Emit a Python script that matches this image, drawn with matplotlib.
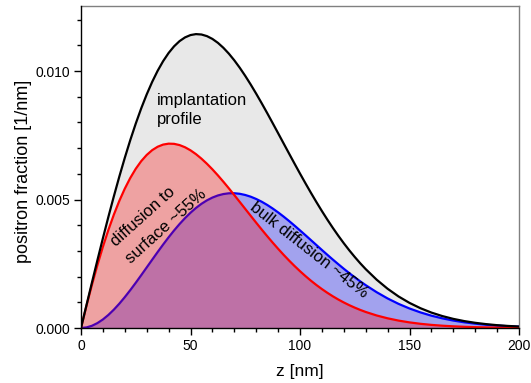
import matplotlib
matplotlib.use("Agg")
import matplotlib.pyplot as plt
from matplotlib.ticker import MultipleLocator, FixedLocator, FixedFormatter

plt.rcParams['font.family'] = ['Liberation Sans', 'DejaVu Sans']

# depth z [nm]
z = [0, 2.5, 5, 7.5, 10, 12.5, 15, 17.5, 20, 22.5, 25, 27.5, 30, 32.5, 35, 37.5,
     40, 42.5, 45, 47.5, 50, 52.5, 55, 57.5, 60, 62.5, 65, 67.5, 70, 72.5, 75, 77.5,
     80, 82.5, 85, 87.5, 90, 92.5, 95, 97.5, 100, 102.5, 105, 107.5, 110, 112.5,
     115, 117.5, 120, 122.5, 125, 127.5, 130,
     135, 140, 145, 150, 155, 160, 165, 170, 175, 180, 185, 190, 195, 200]

# implantation profile [1e-3 / nm]
implantation = [0.000, 0.888, 1.770, 2.640, 3.493, 4.323, 5.124, 5.893, 6.623, 7.312,
                7.954, 8.548, 9.089, 9.577, 10.009, 10.384, 10.701, 10.961, 11.163, 11.308,
                11.399, 11.436, 11.421, 11.358, 11.249, 11.097, 10.905, 10.677, 10.416, 10.126,
                9.810, 9.473, 9.117, 8.747, 8.366, 7.976, 7.582, 7.185, 6.790, 6.397,
                6.009, 5.630, 5.259, 4.899, 4.551, 4.216, 3.895, 3.589, 3.298, 3.023,
                2.764, 2.519, 2.291,
                1.880, 1.527, 1.227, 0.977, 0.770, 0.600, 0.464, 0.355, 0.269, 0.202,
                0.150, 0.110, 0.080, 0.058]

# diffusion to surface [1e-3 / nm]
surface = [0.000, 0.866, 1.684, 2.449, 3.161, 3.815, 4.410, 4.947, 5.422, 5.838,
           6.195, 6.493, 6.733, 6.920, 7.053, 7.137, 7.173, 7.166, 7.118, 7.033,
           6.914, 6.765, 6.589, 6.391, 6.174, 5.940, 5.693, 5.436, 5.172, 4.904,
           4.634, 4.364, 4.097, 3.833, 3.576, 3.325, 3.083, 2.849, 2.626, 2.413,
           2.211, 2.020, 1.840, 1.672, 1.515, 1.369, 1.233, 1.108, 0.993, 0.888,
           0.792, 0.704, 0.624,
           0.487, 0.377, 0.288, 0.218, 0.163, 0.121, 0.089, 0.065, 0.047, 0.033,
           0.024, 0.016, 0.011, 0.008]

# bulk diffusion [1e-3 / nm]
bulk = [0.000, 0.022, 0.086, 0.191, 0.332, 0.508, 0.714, 0.946, 1.201, 1.473,
        1.759, 2.055, 2.356, 2.657, 2.956, 3.247, 3.528, 3.795, 4.045, 4.276,
        4.485, 4.671, 4.832, 4.967, 5.075, 5.157, 5.212, 5.241, 5.244, 5.222,
        5.176, 5.109, 5.020, 4.914, 4.790, 4.651, 4.499, 4.336, 4.164, 3.984,
        3.798, 3.610, 3.419, 3.227, 3.036, 2.847, 2.662, 2.481, 2.305, 2.135,
        1.972, 1.815, 1.667,
        1.393, 1.150, 0.939, 0.759, 0.607, 0.479, 0.375, 0.290, 0.222, 0.169,
        0.126, 0.094, 0.069, 0.050]

x_ticks = [0, 50, 100, 150, 200]
y_ticks = [0.0, 0.005, 0.010]
y_tick_labels = ["0.000", "0.005", "0.010"]

scale = 1e-3
imp = [v * scale for v in implantation]
srf = [v * scale for v in surface]
blk = [v * scale for v in bulk]

fig = plt.figure(figsize=(5.31, 3.83), dpi=100)
ax = fig.add_axes([81/531, 1 - 328/383, (519 - 81)/531, (328 - 6)/383])

ax.fill_between(z, 0, imp, color='#e8e8e8', lw=0, zorder=1)
ax.plot(z, imp, color='black', lw=1.6, zorder=6)
ax.fill_between(z, 0, blk, color='blue', alpha=0.3, lw=0, zorder=2)
ax.plot(z, blk, color='blue', lw=1.6, zorder=3)
ax.fill_between(z, 0, srf, color='red', alpha=0.3, lw=0, zorder=4)
ax.plot(z, srf, color='red', lw=1.6, zorder=5)

ax.set_xlim(0, 200)
ax.set_ylim(0, 0.01253)

ax.xaxis.set_major_locator(FixedLocator(x_ticks))
ax.xaxis.set_minor_locator(MultipleLocator(10))
ax.yaxis.set_major_locator(FixedLocator(y_ticks))
ax.yaxis.set_major_formatter(FixedFormatter(y_tick_labels))
ax.yaxis.set_minor_locator(MultipleLocator(0.001))

ax.tick_params(which='both', direction='out', top=False, right=False,
               labelsize=10, pad=3, width=1)
ax.tick_params(which='major', length=5)
ax.tick_params(which='minor', length=3)

for s in ['top', 'right']:
    ax.spines[s].set_color('#808080')
    ax.spines[s].set_linewidth(1)
for s in ['left', 'bottom']:
    ax.spines[s].set_color('black')
    ax.spines[s].set_linewidth(1)
    ax.spines[s].set_zorder(7)

ax.set_xlabel('z [nm]', fontsize=12.5, labelpad=8)
ax.set_ylabel('positron fraction [1/nm]', fontsize=13, labelpad=4)
ax.yaxis.set_label_coords(-0.112, 0.485)

ax.text(34.7, 0.00848, 'implantation\nprofile', fontsize=12, ha='left', va='center',
        linespacing=1.3, zorder=8)
ax.text(35.4, 0.00429, 'diffusion to\nsurface ~55%', fontsize=12, ha='center', va='center',
        multialignment='left', rotation=42, rotation_mode='anchor', linespacing=1.6, zorder=8)
ax.text(104, 0.00303, 'bulk diffusion ~45%', fontsize=12, ha='center', va='center',
        rotation=-38, rotation_mode='anchor', zorder=8)

fig.savefig('out.png', dpi=100)
